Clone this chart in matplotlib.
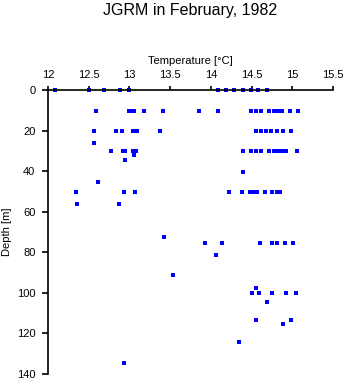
import matplotlib
matplotlib.use("Agg")
import matplotlib.pyplot as plt

# Data (temperature in degC, depth in m)
temp_0 = [12.09, 12.50, 12.69, 12.89, 12.99, 14.09, 14.19, 14.29, 14.39, 14.49, 14.58, 14.69]
temp_10 = [12.59, 12.99, 13.03, 13.06, 13.18, 13.41, 13.85, 14.09, 14.49, 14.56, 14.61,
           14.71, 14.77, 14.82, 14.87, 14.97, 15.07]
temp_20 = [12.56, 12.84, 12.91, 13.04, 13.09, 13.38, 14.56, 14.62, 14.68, 14.74, 14.81,
           14.88, 14.98]
temp_30 = [12.77, 12.92, 12.94, 13.04, 13.08, 14.39, 14.49, 14.55, 14.61, 14.71, 14.77,
           14.82, 14.87, 14.92, 15.06]
temp_50 = [12.34, 12.93, 13.07, 14.22, 14.38, 14.48, 14.53, 14.57, 14.67, 14.75, 14.81, 14.85]
temp_75 = [13.93, 14.14, 14.60, 14.75, 14.81, 14.91, 15.01]
temp_100 = [14.50, 14.59, 14.75, 14.92, 15.04]
# isolated observations
temp_other = [12.57, 13.05, 12.94, 14.40, 12.61, 12.36, 12.87, 13.42, 14.06, 13.53,
              14.55, 14.69, 14.55, 14.98, 14.88, 14.35, 12.93]
depth_other = [26.3, 32.2, 34.3, 40.4, 45.5, 56.3, 56.3, 72.4, 81.4, 91.3,
               97.5, 104.4, 113.3, 113.4, 115.4, 124.3, 134.6]

row_depths = [0, 10.2, 20.3, 30.2, 50.4, 75.5, 100.3]
rows = [temp_0, temp_10, temp_20, temp_30, temp_50, temp_75, temp_100]

temps = []
depths = []
for d, r in zip(row_depths, rows):
    temps += r
    depths += [d] * len(r)
temps += temp_other
depths += depth_other

xticks = [12, 12.5, 13, 13.5, 14, 14.5, 15, 15.5]
xticklabels = ["12", "12.5", "13", "13.5", "14", "14.5", "15", "15.5"]
yticks = [0, 20, 40, 60, 80, 100, 120, 140]

plt.rcParams['font.family'] = ['Liberation Sans', 'DejaVu Sans']

W, H = 346, 384
fig = plt.figure(figsize=(W / 100, H / 100), dpi=100)
ax = fig.add_axes([48 / W, 1 - 374 / H, 285 / W, 284 / H])

ax.plot(temps, depths, linestyle='none', marker='s', markersize=2.2,
        markeredgewidth=0, color='#0000ff', clip_on=False)

ax.set_xlim(12, 15.5)
ax.set_ylim(140, 0)
ax.xaxis.tick_top()
ax.xaxis.set_label_position('top')
ax.set_xticks(xticks)
ax.set_xticklabels(xticklabels)
ax.set_yticks(yticks)

for s in ['bottom', 'right']:
    ax.spines[s].set_visible(False)
for s in ['top', 'left']:
    ax.spines[s].set_linewidth(1.2)

ax.tick_params(axis='x', direction='out', length=3, width=1.2, pad=4.5, labelsize=8)
ax.tick_params(axis='y', direction='out', length=4.5, width=1.2, pad=4.5, labelsize=8)

ax.set_xlabel('Temperature [\u00b0C]', fontsize=8, labelpad=4)
ax.set_ylabel('Depth [m]', fontsize=8)
ax.yaxis.set_label_coords(-0.125, 0.5)

fig.text((48 + 333) / 2 / W, 1 - 10 / H, 'JGRM in February, 1982',
         ha='center', va='center', fontsize=11.5)

fig.savefig('out.png', dpi=100)
